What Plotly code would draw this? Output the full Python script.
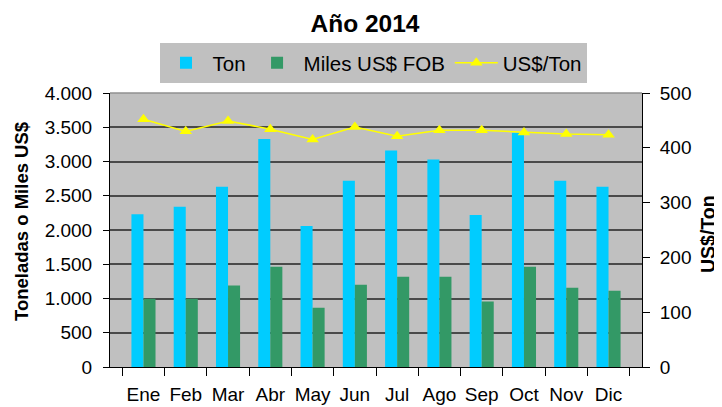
import plotly.graph_objects as go

months = ["Ene", "Feb", "Mar", "Abr", "May", "Jun", "Jul", "Ago", "Sep", "Oct", "Nov", "Dic"]
ton = [2230, 2340, 2630, 3330, 2060, 2720, 3160, 3030, 2220, 3420, 2720, 2630]
miles_fob = [995, 995, 1190, 1465, 865, 1200, 1318, 1318, 955, 1465, 1158, 1113]
precio = [452, 430, 449, 434, 415, 438, 421, 432, 432, 428, 425, 424]

FONT = "Liberation Sans, Arial, sans-serif"

# page body has an 8px margin; figure is sized/offset to compensate
W, H = 714, 399
ML, MR, MT, MB = 102, 80, 85, 40
PW = W - ML - MR
PH = H - MT - MB

fig = go.Figure()
fig.add_trace(go.Bar(x=months, y=ton, name="Ton", marker=dict(color="#00CCFF", line=dict(width=0))))
fig.add_trace(go.Bar(x=months, y=miles_fob, name="Miles US$ FOB", marker=dict(color="#339966", line=dict(width=0))))
fig.add_trace(go.Scatter(x=months, y=precio, name="US$/Ton", yaxis="y2", mode="lines+markers",
                         line=dict(color="#FFFF00", width=1.5),
                         marker=dict(symbol="triangle-up", size=11, color="#FFFF00")))

fig.update_layout(
    width=W, height=H,
    margin=dict(l=ML, r=MR, t=MT, b=MB, autoexpand=False),
    paper_bgcolor="white",
    plot_bgcolor="#C0C0C0",
    separators=",.",
    font=dict(family=FONT, size=19, color="black"),
    barmode="group",
    bargap=0.43,
    bargroupgap=0,
    showlegend=True,
    legend=dict(orientation="h", x=(373 - 110) / PW, xanchor="center", y=1 + (MT - 35) / PH,
                yanchor="top", bgcolor="#C0C0C0", font=dict(size=20.5, family=FONT),
                itemwidth=43, tracegroupgap=0),
    title=dict(text="<b>Año 2014</b>", x=0.5, xanchor="center", xref="container",
               y=1 - 15 / H, yanchor="middle", yref="container",
               font=dict(size=24.5, family=FONT, color="black")),
    xaxis=dict(type="category", showline=True, linecolor="black", linewidth=1,
               ticks="outside", ticklen=8, tickcolor="black", tickson="boundaries",
               tickangle=0, showgrid=False, tickfont=dict(size=19), automargin=False,
               ticklabelstandoff=10),
    yaxis=dict(range=[0, 4000], dtick=500, tickformat=",d", showline=True, linecolor="black",
               linewidth=1, ticks="outside", ticklen=6, tickcolor="black",
               showgrid=True, gridcolor="#4a4a4a", gridwidth=1.5, zeroline=False,
               tickfont=dict(size=19), automargin=False, ticklabelstandoff=7),
    yaxis2=dict(range=[0, 500], dtick=100, overlaying="y", side="right", showline=True,
                linecolor="black", linewidth=1, ticks="outside", ticklen=7, tickcolor="black",
                showgrid=False, zeroline=False,
                tickfont=dict(size=19), automargin=False, ticklabelstandoff=6),
    annotations=[
        dict(text="<b>Toneladas o Miles US$</b>", textangle=-90, showarrow=False,
             xref="paper", yref="paper", x=(13 - ML) / PW, y=1 - (213 - MT) / PH,
             xanchor="center", yanchor="middle", font=dict(size=18.5)),
        dict(text="<b>US$/Ton</b>", textangle=-90, showarrow=False,
             xref="paper", yref="paper", x=(700 - ML) / PW, y=1 - (226 - MT) / PH,
             xanchor="center", yanchor="middle", font=dict(size=19.5)),
    ],
)

fig.add_shape(type="line", xref="paper", yref="paper", x0=0, x1=1, y0=1, y1=1,
              line=dict(color="#909090", width=1.5))

fig.write_html("out.html")
